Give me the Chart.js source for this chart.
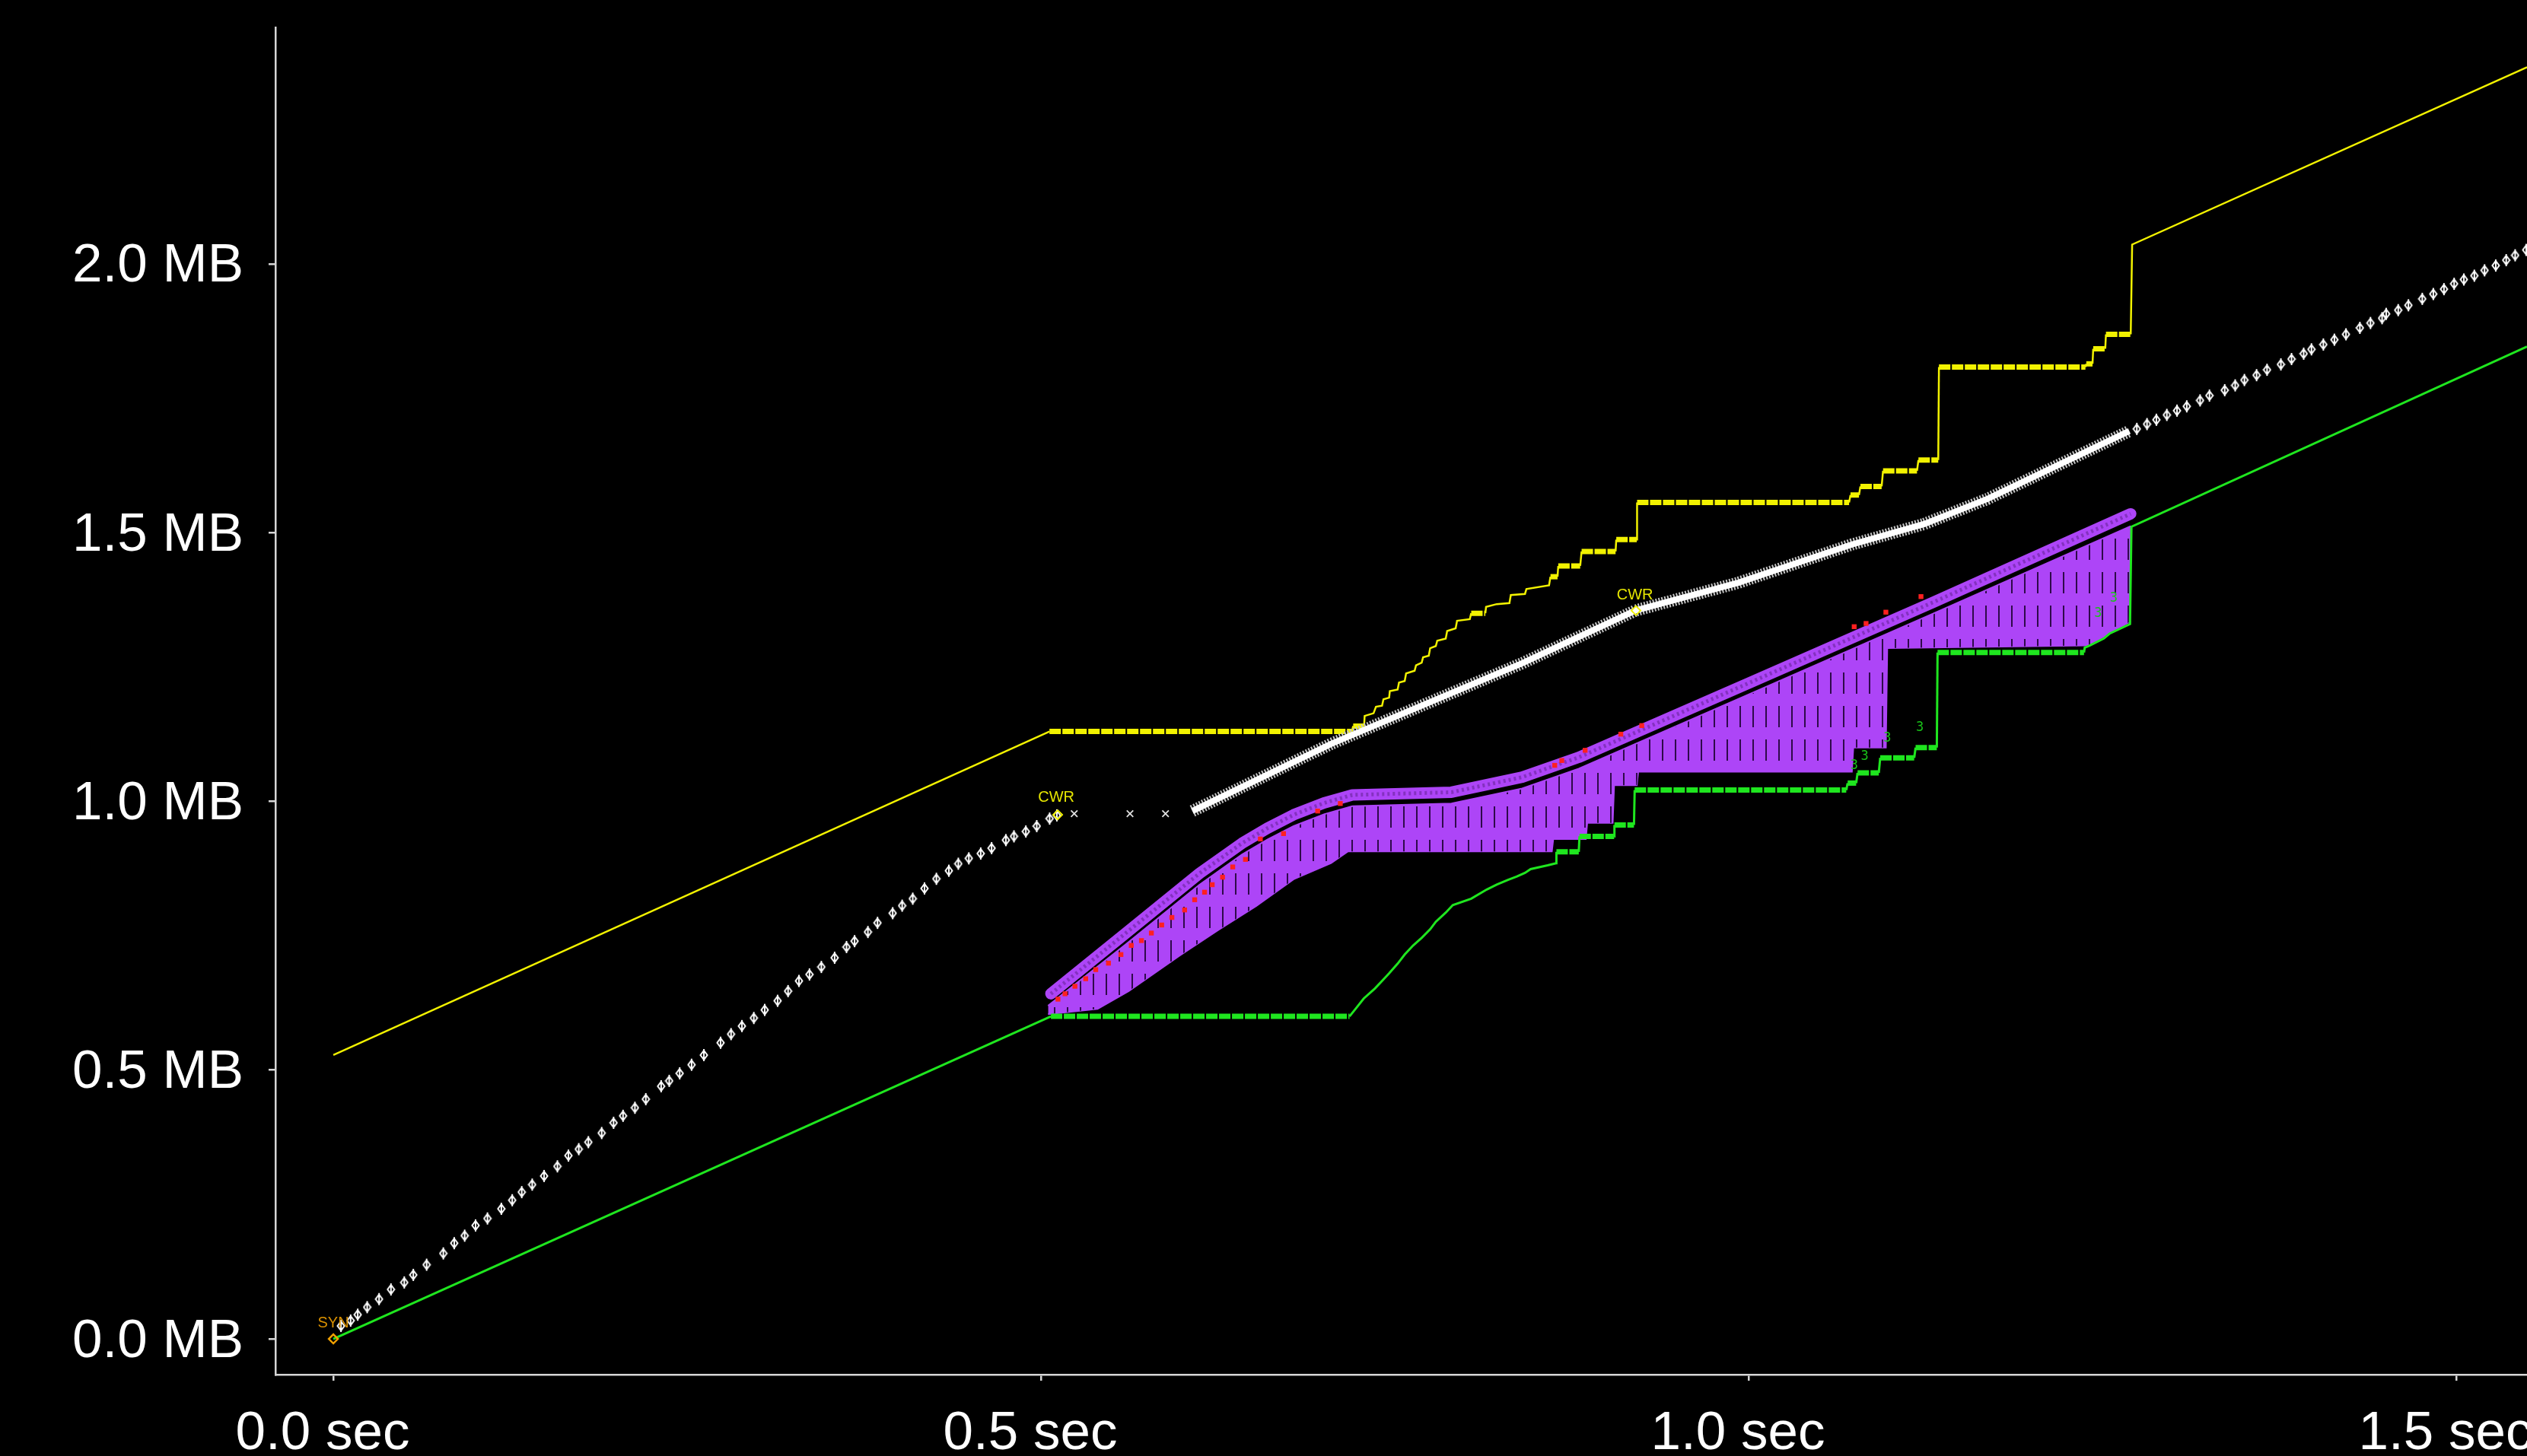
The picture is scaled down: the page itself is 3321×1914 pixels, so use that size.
<!DOCTYPE html>
<html>
<head>
<meta charset="utf-8">
<script src="https://cdn.jsdelivr.net/npm/chart.js@4.4.1/dist/chart.umd.min.js"></script>
<style>
  html, body { margin: 0; padding: 0; background: #000; overflow: hidden; }
  canvas { display: block; }
</style>
</head>
<body>
<canvas id="c" width="3321" height="1914"></canvas>
<script>
// ---- axis ticks (seconds / megabytes) ----
const X_TICKS = [0, 0.5, 1.0, 1.5];
const Y_TICKS = [0, 0.5, 1.0, 1.5, 2.0];

// ---- receive window (advertised) : [sec, MB] ----
const windowLine = [
  [0, 0.528], [0.506, 1.130], [0.7197, 1.130], [0.7206, 1.140], [0.7283, 1.140], [0.7287, 1.159],
  [0.735, 1.164], [0.7367, 1.176], [0.741, 1.178], [0.742, 1.190], [0.746, 1.193], [0.7465, 1.205],
  [0.752, 1.208], [0.753, 1.221], [0.757, 1.224], [0.758, 1.238], [0.764, 1.243], [0.765, 1.253],
  [0.769, 1.258], [0.770, 1.268], [0.774, 1.271], [0.775, 1.285], [0.779, 1.289], [0.780, 1.299],
  [0.786, 1.303], [0.787, 1.317], [0.793, 1.322], [0.794, 1.336], [0.803, 1.339], [0.804, 1.350],
  [0.814, 1.350], [0.8145, 1.362], [0.822, 1.367], [0.831, 1.369], [0.832, 1.384], [0.842, 1.386],
  [0.843, 1.395], [0.859, 1.402], [0.860, 1.418], [0.865, 1.418], [0.8655, 1.438], [0.881, 1.438],
  [0.882, 1.465], [0.906, 1.465], [0.9065, 1.487], [0.921, 1.487], [0.9212, 1.556], [1.071, 1.556],
  [1.072, 1.570], [1.078, 1.570], [1.079, 1.586], [1.094, 1.586], [1.095, 1.615], [1.119, 1.615],
  [1.120, 1.635], [1.134, 1.635], [1.1345, 1.808], [1.238, 1.808], [1.2386, 1.814], [1.243, 1.814],
  [1.2435, 1.842], [1.252, 1.842], [1.2525, 1.869], [1.270, 1.869], [1.271, 2.036], [1.55, 2.366]
];

// ---- cumulative ACK : [sec, MB] ----
const ackLine = [
  [0, 0], [0.507, 0.600], [0.718, 0.600], [0.722, 0.613], [0.728, 0.633], [0.736, 0.652],
  [0.741, 0.666], [0.746, 0.680], [0.752, 0.698], [0.757, 0.715], [0.763, 0.732], [0.769, 0.746],
  [0.775, 0.762], [0.779, 0.776], [0.786, 0.793], [0.791, 0.807], [0.804, 0.819], [0.815, 0.836],
  [0.822, 0.845], [0.830, 0.854], [0.836, 0.860], [0.842, 0.867], [0.846, 0.874], [0.858, 0.881],
  [0.864, 0.885], [0.8642, 0.906], [0.880, 0.906], [0.8805, 0.935], [0.905, 0.935], [0.9052, 0.956],
  [0.919, 0.956], [0.9195, 1.021], [1.069, 1.021], [1.070, 1.034], [1.076, 1.034], [1.077, 1.053],
  [1.092, 1.053], [1.093, 1.081], [1.117, 1.081], [1.118, 1.100], [1.133, 1.100], [1.1335, 1.277],
  [1.237, 1.277], [1.2375, 1.286], [1.241, 1.290], [1.251, 1.303], [1.255, 1.312], [1.2695, 1.330],
  [1.2705, 1.511], [1.55, 1.846]
];

// ---- data segments sent, sparse phases : [sec, MB] ----
const segmentsEarly = [
  [0.0054, 0.024], [0.0122, 0.034], [0.0172, 0.045], [0.0239, 0.059], [0.0323, 0.074], [0.0407, 0.092],
  [0.0501, 0.105], [0.0565, 0.119], [0.0659, 0.138], [0.0777, 0.159], [0.0854, 0.178], [0.0928, 0.192],
  [0.1005, 0.211], [0.1089, 0.224], [0.1187, 0.242], [0.1264, 0.258], [0.1331, 0.273], [0.1405, 0.287],
  [0.1489, 0.303], [0.1583, 0.321], [0.1661, 0.341], [0.1734, 0.353], [0.1802, 0.366], [0.1896, 0.383],
  [0.1980, 0.402], [0.2047, 0.415], [0.2131, 0.430], [0.2208, 0.446], [0.2316, 0.470], [0.2373, 0.480],
  [0.2447, 0.494], [0.2531, 0.510], [0.2618, 0.528], [0.2736, 0.551], [0.2810, 0.567], [0.2887, 0.582],
  [0.2971, 0.597], [0.3048, 0.612], [0.3139, 0.629], [0.3213, 0.647], [0.3290, 0.666], [0.3364, 0.678],
  [0.3448, 0.692], [0.3542, 0.709], [0.3626, 0.729], [0.3683, 0.740], [0.3777, 0.757], [0.3845, 0.774],
  [0.3952, 0.792], [0.4019, 0.806], [0.4094, 0.819], [0.4177, 0.838], [0.4261, 0.856], [0.4349, 0.871],
  [0.4416, 0.884], [0.4490, 0.894], [0.4574, 0.903], [0.4651, 0.913], [0.4752, 0.928], [0.4809, 0.935],
  [0.4893, 0.944], [0.4970, 0.954], [0.5061, 0.968], [0.5112, 0.974]
];
const segmentsLate = [
  [1.2743, 1.693], [1.2815, 1.702], [1.2881, 1.710], [1.2955, 1.719], [1.3027, 1.727], [1.3096, 1.735],
  [1.3190, 1.746], [1.3256, 1.755], [1.3364, 1.765], [1.3438, 1.774], [1.3503, 1.784], [1.3589, 1.793],
  [1.3663, 1.803], [1.3761, 1.813], [1.3836, 1.823], [1.3922, 1.833], [1.3977, 1.841], [1.4061, 1.850],
  [1.4139, 1.859], [1.4221, 1.869], [1.4319, 1.881], [1.4394, 1.890], [1.4476, 1.899], [1.4505, 1.907],
  [1.4590, 1.914], [1.4662, 1.923], [1.4760, 1.935], [1.4838, 1.944], [1.4913, 1.953], [1.4985, 1.963],
  [1.5054, 1.971], [1.5128, 1.978], [1.5200, 1.988], [1.5279, 1.997], [1.5353, 2.007], [1.5416, 2.016],
  [1.5494, 2.026]
];
// dense run of segments, drawn as a band
const segmentsDense = [
  [0.607, 0.982], [0.705, 1.107], [0.840, 1.257], [0.920, 1.355], [0.993, 1.407],
  [1.073, 1.478], [1.124, 1.516], [1.169, 1.563], [1.269, 1.689]
];
// zero-window probes / timeouts
const probes = [[0.5235, 0.977], [0.5629, 0.977], [0.588, 0.977]];

// ---- SACK blocks : band and filled area ----
const sackBand = [
  [0.507, 0.642], [0.560, 0.755], [0.612, 0.866], [0.642, 0.922], [0.660, 0.950], [0.6785, 0.975],
  [0.700, 0.997], [0.720, 1.012], [0.790, 1.017], [0.840, 1.045], [0.880, 1.082], [1.0, 1.220],
  [1.130, 1.370], [1.270, 1.535]
];
const sackTop = [
  [0.505, 0.620], [0.560, 0.734], [0.612, 0.845], [0.642, 0.901], [0.660, 0.929], [0.6785, 0.954],
  [0.700, 0.976], [0.720, 0.991], [0.790, 0.996], [0.840, 1.024], [0.880, 1.061], [1.0, 1.199],
  [1.130, 1.349], [1.270, 1.512]
];
const sackBottom = [
  [0.505, 0.604], [0.540, 0.614], [0.562, 0.647], [0.598, 0.713], [0.625, 0.760], [0.652, 0.805],
  [0.6785, 0.855], [0.705, 0.885], [0.717, 0.907], [0.861, 0.907], [0.862, 0.930], [0.885, 0.930],
  [0.886, 0.960], [0.904, 0.960], [0.905, 1.030], [0.921, 1.030], [0.922, 1.055], [1.073, 1.055],
  [1.074, 1.100], [1.097, 1.100], [1.098, 1.285], [1.240, 1.290], [1.270, 1.335]
];

// ---- retransmitted segments : [sec, MB] ----
const retransmits = [
  [0.512, 0.632], [0.517, 0.642], [0.524, 0.656], [0.5316, 0.670], [0.5387, 0.687], [0.5477, 0.699],
  [0.5565, 0.715], [0.5638, 0.732], [0.571, 0.741], [0.578, 0.755], [0.5853, 0.770], [0.5925, 0.784],
  [0.6015, 0.798], [0.6086, 0.817], [0.6156, 0.831], [0.621, 0.845], [0.6283, 0.859], [0.6355, 0.878],
  [0.6445, 0.892], [0.655, 0.930], [0.6714, 0.940], [0.6955, 0.982], [0.7115, 0.996], [0.863, 1.067],
  [0.868, 1.076], [0.8845, 1.095], [0.9097, 1.125], [0.9245, 1.141], [1.0746, 1.325], [1.083, 1.331],
  [1.097, 1.352], [1.1218, 1.381]
];

// ---- annotations ----
const synMark = [[0, 0]];
const cwrMarks = [[0.5118, 0.975], [0.9204, 1.355]];
const flagLabels = [
  { text: 'SYN', at: [0.0, 0.021], color: '#d99000' },
  { text: 'CWR', at: [0.5108, 0.9986], color: '#e6e600' },
  { text: 'CWR', at: [0.9197, 1.375], color: '#e6e600' }
];
const dupAckLabels = [[1.0746, 1.067], [1.082, 1.083], [1.098, 1.117], [1.121, 1.137], [1.247, 1.350], [1.258, 1.377]];

// ---------------------------------------------------------------
const pts = a => a.map(([x, y]) => ({ x, y }));
const canvas = document.getElementById('c');
const ctx = canvas.getContext('2d');

const AXIS = '#d6d6d6';
const YELLOW = '#f2f200';
const GREEN = '#1fe61f';
const PURPLE = '#ad45f7';
const FONT = 'Liberation Sans, Arial, Helvetica, sans-serif';

// flat runs of the step lines are drawn heavy, like the dense ack ticks
const isFlat = c => c.p0.parsed.y === c.p1.parsed.y && Math.abs(c.p1.x - c.p0.x) > 8;
const stepSegment = {
  borderWidth: c => (isFlat(c) ? 7 : undefined),
  borderDash: c => (isFlat(c) ? [15, 2] : undefined)
};

// purple fill with dark sack-edge strokes
function sackPattern() {
  const cv = document.createElement('canvas');
  cv.width = 17; cv.height = 44;
  const g = cv.getContext('2d');
  g.fillStyle = PURPLE; g.fillRect(0, 0, 17, 44);
  g.fillStyle = 'rgba(25,0,45,0.85)'; g.fillRect(8, 4, 2, 28);
  return ctx.createPattern(cv, 'repeat');
}

// segment glyph: vertical bar with a diamond
function segGlyph() {
  const cv = document.createElement('canvas');
  cv.width = 12; cv.height = 18;
  const g = cv.getContext('2d');
  g.strokeStyle = '#ffffff'; g.lineWidth = 2;
  g.beginPath(); g.moveTo(6, 1); g.lineTo(6, 17); g.stroke();
  g.beginPath(); g.moveTo(6, 3); g.lineTo(10.5, 9); g.lineTo(6, 15); g.lineTo(1.5, 9); g.closePath(); g.stroke();
  return cv;
}
const glyph = segGlyph();

const bgPlugin = {
  id: 'bg',
  beforeDraw(chart) {
    const c = chart.ctx;
    c.save(); c.fillStyle = '#000'; c.fillRect(0, 0, chart.width, chart.height); c.restore();
  }
};

const textPlugin = {
  id: 'textMarks',
  afterDatasetsDraw(chart) {
    const c = chart.ctx, xs = chart.scales.x, ys = chart.scales.y;
    c.save();
    c.textAlign = 'center';
    c.textBaseline = 'alphabetic';
    c.font = '20px ' + FONT;
    flagLabels.forEach(l => {
      c.fillStyle = l.color;
      c.fillText(l.text, xs.getPixelForValue(l.at[0]), ys.getPixelForValue(l.at[1]));
    });
    c.textBaseline = 'middle';
    c.font = '17px DejaVu Sans Mono, monospace';
    c.fillStyle = '#19c419';
    dupAckLabels.forEach(([t, m]) => c.fillText('3', xs.getPixelForValue(t), ys.getPixelForValue(m)));
    c.restore();
  }
};

new Chart(ctx, {
  type: 'scatter',
  data: {
    datasets: [
      { // filled SACK area (top edge), filled down to next dataset
        type: 'line', data: pts(sackTop), borderColor: PURPLE, borderWidth: 2,
        backgroundColor: sackPattern(), fill: '+1', pointRadius: 0, order: 10
      },
      { // filled SACK area (bottom edge)
        type: 'line', data: pts(sackBottom), borderColor: PURPLE, borderWidth: 2,
        fill: false, pointRadius: 0, order: 10
      },
      { // SACK band
        type: 'line', data: pts(sackBand), borderColor: PURPLE, borderWidth: 15,
        borderCapStyle: 'round', borderJoinStyle: 'round', pointRadius: 0, fill: false, order: 9
      },
      { // band texture
        type: 'line', data: pts(sackBand), borderColor: 'rgba(70,20,110,0.4)', borderWidth: 5,
        borderDash: [3, 4], pointRadius: 0, fill: false, order: 8
      },
      { // retransmissions
        data: pts(retransmits), pointStyle: 'rect', pointRadius: 4.5,
        backgroundColor: '#ff2020', borderColor: '#ff2020', borderWidth: 0, order: 7
      },
      { // ACK line
        type: 'line', data: pts(ackLine), borderColor: GREEN, borderWidth: 3,
        segment: stepSegment, pointRadius: 0, fill: false, order: 6
      },
      { // receive window
        type: 'line', data: pts(windowLine), borderColor: YELLOW, borderWidth: 2.5,
        segment: stepSegment, pointRadius: 0, fill: false, order: 5
      },
      { // dense segments, outer texture
        type: 'line', data: pts(segmentsDense), borderColor: '#c4c4c4', borderWidth: 16,
        borderDash: [2, 2], pointRadius: 0, fill: false, order: 4
      },
      { // dense segments, core
        type: 'line', data: pts(segmentsDense), borderColor: '#ffffff', borderWidth: 8,
        pointRadius: 0, fill: false, order: 3
      },
      { // sparse segments
        data: pts(segmentsEarly.concat(segmentsLate)), pointStyle: glyph, order: 2
      },
      { // probes
        data: pts(probes), pointStyle: 'crossRot', pointRadius: 6,
        borderColor: '#e0e0e0', borderWidth: 1.8, order: 2
      },
      { // SYN marker
        data: pts(synMark), pointStyle: 'rectRot', pointRadius: 6,
        borderColor: '#f0a000', backgroundColor: 'rgba(0,0,0,0)', borderWidth: 2.5, order: 1
      },
      { // CWR markers
        data: pts(cwrMarks), pointStyle: 'rectRot', pointRadius: 6,
        borderColor: '#f2f200', backgroundColor: 'rgba(0,0,0,0)', borderWidth: 2, order: 1
      }
    ]
  },
  options: {
    responsive: false,
    animation: false,
    devicePixelRatio: 1,
    events: [],
    layout: { autoPadding: false, padding: { top: 36, left: 0, right: 0, bottom: 0 } },
    plugins: { legend: { display: false }, tooltip: { enabled: false } },
    scales: {
      x: {
        type: 'linear', min: -0.0409, max: 1.55,
        afterBuildTicks: s => { s.ticks = X_TICKS.map(v => ({ value: v })); },
        afterFit: s => { s.height = 107; s.paddingLeft = 0; s.paddingRight = 0; },
        grid: { drawOnChartArea: false, color: AXIS, lineWidth: 2.5, tickLength: 8 },
        border: { color: AXIS, width: 2.5 },
        ticks: {
          color: '#ffffff', padding: 28, labelOffset: -14, autoSkip: false, maxRotation: 0,
          font: { family: FONT, size: 71 },
          callback: v => v.toFixed(1) + ' sec'
        }
      },
      y: {
        type: 'linear', min: -0.0665, max: 2.44,
        afterBuildTicks: s => { s.ticks = Y_TICKS.map(v => ({ value: v })); },
        afterFit: s => { s.width = 362; s.paddingTop = 0; s.paddingBottom = 0; },
        grid: { drawOnChartArea: false, color: AXIS, lineWidth: 2.5, tickLength: 9 },
        border: { color: AXIS, width: 2.5 },
        ticks: {
          color: '#ffffff', padding: 33, labelOffset: 4, autoSkip: false,
          font: { family: FONT, size: 71 },
          callback: v => v.toFixed(1) + ' MB'
        }
      }
    }
  },
  plugins: [bgPlugin, textPlugin]
});
</script>
</body>
</html>
